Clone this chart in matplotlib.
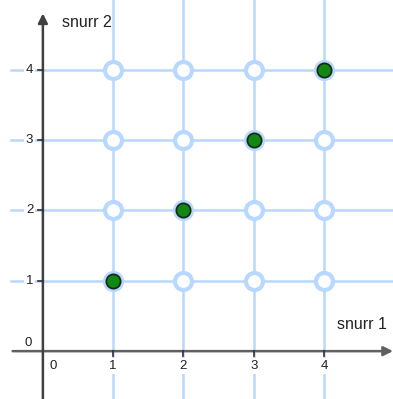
import matplotlib.pyplot as plt

plt.rcParams['font.family'] = ['Liberation Sans', 'DejaVu Sans']

# grid of possible outcomes for two spinners
snurr1 = [1, 2, 3, 4]
snurr2 = [1, 2, 3, 4]
# equal outcomes (highlighted)
equal_x = [1, 2, 3, 4]
equal_y = [1, 2, 3, 4]

fig = plt.figure(figsize=(3.93, 3.99), dpi=100)
ax = fig.add_axes([0, 0, 1, 1])
ax.set_xlim(-0.61, 4.98)
ax.set_ylim(-0.68, 4.99)
ax.axis('off')

grid_col = '#b8d8ff'
axis_col = '#606060'

for v in snurr1:
    ax.plot([v, v], [-0.68, 4.99], color=grid_col, lw=1.8, zorder=1)
for v in snurr2:
    ax.plot([-0.45, 4.98], [v, v], color=grid_col, lw=1.8, zorder=1)

# axes with arrows
ax.annotate('', xy=(4.98, 0), xytext=(-0.43, 0),
            arrowprops=dict(arrowstyle='-|>', color=axis_col, lw=1.8,
                            mutation_scale=14, shrinkA=0, shrinkB=0), zorder=3)
ax.annotate('', xy=(0, 4.8), xytext=(0, -0.68),
            arrowprops=dict(arrowstyle='-|>', color='#404040', lw=1.8,
                            mutation_scale=14, shrinkA=0, shrinkB=0), zorder=3)

# ticks and labels
for v in snurr1:
    ax.plot([v, v], [0, -0.07], color='#303030', lw=1.2, zorder=3)
    ax.text(v, -0.21, str(v), ha='center', va='center', fontsize=9.5,
            color='#222222', zorder=4,
            bbox=dict(facecolor='white', edgecolor='none', pad=1.5))
for v in snurr2:
    ax.plot([-0.07, 0], [v, v], color='#303030', lw=1.2, zorder=3)
    ax.text(-0.19, v, str(v), ha='center', va='center', fontsize=9.5,
            color='#222222', zorder=4,
            bbox=dict(facecolor='white', edgecolor='none', pad=1.5))
ax.text(0.15, -0.21, '0', ha='center', va='center', fontsize=9.5, color='#222222')
ax.text(-0.21, 0.12, '0', ha='center', va='center', fontsize=9.5, color='#222222')

ax.text(0.27, 4.67, 'snurr 2', ha='left', va='center', fontsize=11.5, color='#222222')
ax.text(4.19, 0.38, 'snurr 1', ha='left', va='center', fontsize=11.5, color='#222222')

# all outcomes
xs = [x for x in snurr1 for y in snurr2]
ys = [y for x in snurr1 for y in snurr2]
ax.scatter(xs, ys, s=150, facecolor='white', edgecolor=grid_col, linewidth=3, zorder=5)
ax.scatter(equal_x, equal_y, s=105, facecolor='#118811', edgecolor='#1a2a1a', linewidth=1.3, zorder=6)

fig.savefig('out.png', dpi=100)
